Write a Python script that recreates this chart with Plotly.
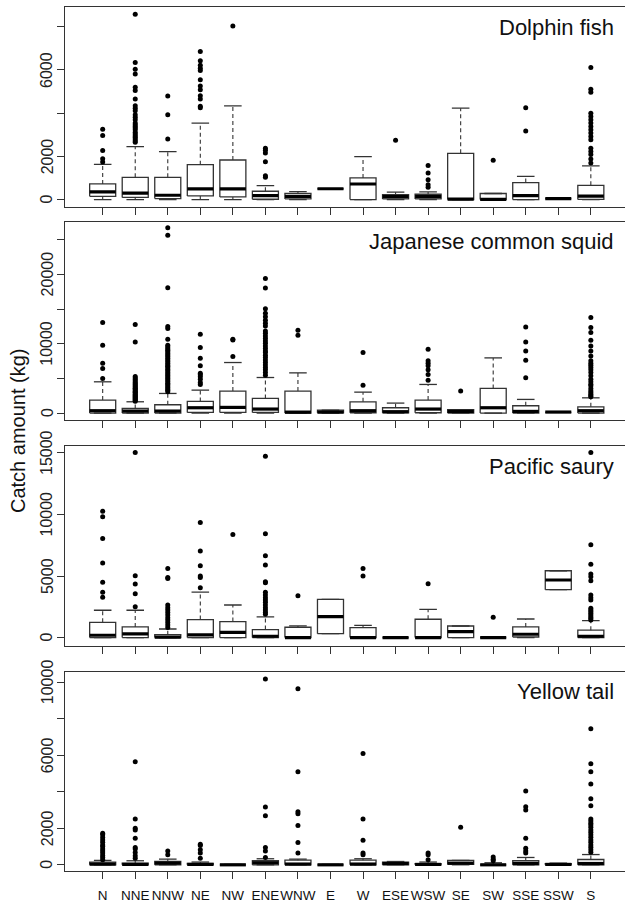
import plotly.graph_objects as go

# Wind-direction categories (x axis)
directions = ["N", "NNE", "NNW", "NE", "NW", "ENE", "WNW", "E", "W",
              "ESE", "WSW", "SE", "SW", "SSE", "SSW", "S"]

# ---- Dolphin fish: box statistics (kg) ----
dolphin_lo  = [0, 0, 0, 0, 0, 0, 0, 500, 0, 0, 0, 0, 0, 0, 40, 0]
dolphin_q1  = [150, 100, 45, 170, 120, 15, 30, 500, 0, 30, 30, 0, 0, 0, 40, 5]
dolphin_med = [355, 300, 200, 490, 490, 185, 150, 500, 720, 140, 140, 20, 10, 185, 40, 155]
dolphin_q3  = [725, 1030, 1030, 1615, 1830, 385, 290, 500, 1000, 230, 245, 2140, 280, 785, 40, 660]
dolphin_hi  = [1630, 2450, 2215, 3540, 4340, 645, 370, 500, 1985, 340, 355, 4230, 280, 1075, 40, 1555]
dolphin_out = [
    [1740, 1890, 2270, 2970, 3260],
    [2650, 2720, 2800, 2880, 2950, 3030, 3110, 3230, 3310, 3380, 3460, 3540, 3690,
     3810, 3920, 4110, 4230, 4340, 4650, 5050, 5200, 5810, 6030, 6340, 8580],
    [2800, 3920, 4790],
    [4250, 4320, 4660, 4800, 5080, 5260, 5540, 5970, 6080, 6220, 6430, 6850],
    [8030],
    [1030, 1100, 1750, 2150, 2280, 2380],
    [], [], [],
    [2750],
    [570, 690, 920, 1230, 1580],
    [],
    [1815],
    [3170, 4250],
    [],
    [1690, 1880, 2080, 2230, 2380, 2770, 2920, 3080, 3230, 3380, 3540, 3690, 3850,
     4000, 4970, 5110, 6110],
]

# ---- Japanese common squid ----
squid_lo  = [0, 0, 0, 0, 0, 0, 0, 0, 0, 0, 0, 0, 0, 0, 100, 0]
squid_q1  = [0, 0, 0, 100, 100, 100, 0, 40, 50, 50, 50, 0, 0, 0, 100, 0]
squid_med = [340, 290, 290, 770, 820, 580, 140, 150, 340, 200, 580, 240, 770, 240, 150, 340]
squid_q3  = [1870, 670, 1200, 1680, 3170, 2110, 3170, 420, 1630, 770, 1870, 480, 3550, 1060, 200, 910]
squid_hi  = [4510, 1630, 2830, 3310, 7290, 5130, 5800, 420, 3020, 1440, 4130, 480, 7960, 1970, 200, 2200]
squid_out = [
    [4990, 6430, 7190, 9780, 13050],
    [1720, 1860, 1990, 2130, 2300, 2420, 2590, 2710, 2880, 3010, 3150, 3320, 3470,
     3590, 3760, 3900, 4080, 4230, 4410, 4620, 4830, 5050, 5290, 10260, 12760],
    [3070, 3300, 3480, 3700, 3890, 4120, 4300, 4550, 4760, 4980, 5200, 5430, 5620,
     5870, 6090, 6300, 6540, 6760, 6950, 7200, 7440, 7660, 7900, 8150, 8370, 8600,
     8830, 9070, 9290, 9520, 9800, 10650, 12180, 12470, 18080, 25660, 26710],
    [4130, 4410, 4890, 5230, 5520, 5760, 6810, 7910, 9450, 11370],
    [8150, 10550, 10650],
    [5470, 5850, 6240, 6570, 6950, 7290, 7670, 8010, 8350, 8730, 8970, 9300, 9690,
     10070, 10410, 10740, 11130, 11510, 11850, 12570, 12950, 13380, 13910, 14390,
     15060, 18030, 19420],
    [11220, 11940],
    [],
    [4030, 8730],
    [],
    [4750, 5560, 6240, 6810, 7190, 7530, 9210],
    [3170],
    [],
    [5080, 7630, 8970, 10260, 12420],
    [],
    [2350, 2490, 2730, 2970, 3210, 3550, 3930, 4170, 4510, 4890, 5370, 5850, 6240,
     6570, 6910, 7190, 7530, 8250, 8970, 9690, 10500, 11610, 12330, 13770],
]

# ---- Pacific saury ----
saury_lo  = [0, 0, 0, 0, 0, 0, 0, 320, 0, 0, 0, 0, 0, 0, 3890, 0]
saury_q1  = [0, 0, 0, 0, 0, 0, 0, 320, 0, 0, 0, 0, 0, 50, 3890, 0]
saury_med = [190, 300, 30, 220, 430, 110, 0, 1700, 0, 0, 0, 480, 0, 270, 4680, 110]
saury_q3  = [1240, 870, 240, 1460, 1300, 650, 840, 3110, 810, 30, 1490, 940, 30, 870, 5430, 600]
saury_hi  = [2220, 2220, 700, 3700, 2650, 1680, 950, 3110, 1000, 30, 2300, 940, 30, 1510, 5430, 1380]
saury_out = [
    [3270, 3680, 4490, 6060, 8060, 9810, 10270],
    [2510, 3570, 4350, 5030, 15030],
    [810, 1030, 1220, 1430, 1620, 1840, 2030, 2240, 2430, 2650, 4810, 4890, 5620],
    [4050, 4890, 5000, 5840, 7030, 9350],
    [8380],
    [1890, 2050, 2240, 2430, 2650, 2870, 3050, 3240, 3460, 3680, 4460, 4540, 5890,
     6650, 8430, 14730],
    [3410],
    [],
    [5000, 5620],
    [],
    [4380],
    [],
    [1650],
    [],
    [],
    [1430, 1570, 1700, 1840, 1970, 2110, 2240, 2380, 3050, 3240, 3460, 4620, 4950,
     5160, 5950, 7540, 15030],
]

# ---- Yellow tail ----
yellow_lo  = [0] * 16
yellow_q1  = [0, 0, 0, 0, 0, 0, 0, 0, 0, 0, 0, 20, 0, 0, 0, 0]
yellow_med = [40, 20, 90, 20, 0, 110, 40, 0, 40, 70, 20, 90, 0, 70, 20, 70]
yellow_q3  = [150, 90, 180, 70, 20, 220, 250, 20, 250, 150, 60, 240, 40, 220, 60, 290]
yellow_hi  = [240, 220, 310, 150, 20, 330, 310, 20, 330, 180, 150, 240, 110, 400, 90, 560]
yellow_out = [
    [270, 400, 510, 640, 760, 870, 1000, 1090, 1240, 1360, 1490, 1640, 1730],
    [360, 490, 670, 870, 950, 1450, 1910, 2000, 2510, 5640],
    [545, 760],
    [360, 640, 820, 1050, 1130],
    [],
    [400, 760, 950, 2690, 3160, 10180],
    [640, 1220, 2150, 2800, 2910, 5090, 9640],
    [],
    [545, 650, 1350, 2510, 6090],
    [],
    [270, 550, 640],
    [2050],
    [220, 310, 420],
    [650, 760, 910, 1450, 3000, 3180, 4040],
    [],
    [690, 820, 960, 1090, 1240, 1360, 1510, 1640, 1780, 1910, 2050, 2180, 2270,
     2400, 2510, 3240, 3620, 4420, 5090, 5530, 7450],
]

species = ["Dolphin fish", "Japanese common squid", "Pacific saury", "Yellow tail"]
panel_stats = [
    (dolphin_lo, dolphin_q1, dolphin_med, dolphin_q3, dolphin_hi, dolphin_out),
    (squid_lo, squid_q1, squid_med, squid_q3, squid_hi, squid_out),
    (saury_lo, saury_q1, saury_med, saury_q3, saury_hi, saury_out),
    (yellow_lo, yellow_q1, yellow_med, yellow_q3, yellow_hi, yellow_out),
]
y_ranges = [[-323, 8914], [-1007, 27626], [-648, 15567], [-344, 10585]]
y_ticks = [[0, 2000, 4000, 6000, 8000],
           [0, 5000, 10000, 15000, 20000, 25000],
           [0, 5000, 10000, 15000],
           [0, 2000, 4000, 6000, 8000, 10000]]
# labelled ticks (the rest stay unlabelled)
y_labelled = [[0, 2000, 6000],
              [0, 10000, 20000],
              [0, 5000, 10000, 15000],
              [0, 2000, 6000, 10000]]

# Panel placement (paper fractions, figure is 625 x 903 px)
W, H = 625, 903
panel_px = [(7, 207), (222, 421), (447, 647), (673, 873)]
title_px = [28, 242, 468, 693]

BOX_HALF = 0.4
CAP_HALF = 0.27
LINE = "#333333"
FONT = "Liberation Sans, Arial"

fig = go.Figure()
layout_axes = {}

for p, (lo, q1, med, q3, hi, outs) in enumerate(panel_stats):
    ax = "" if p == 0 else str(p + 1)
    xref, yref = "x" + ax, "y" + ax

    bx, by, mx, my, wx, wy, cx, cy, ox, oy = [], [], [], [], [], [], [], [], [], []
    for i in range(len(directions)):
        x = i + 1
        # box outline
        bx += [x - BOX_HALF, x + BOX_HALF, x + BOX_HALF, x - BOX_HALF, x - BOX_HALF, None]
        by += [q1[i], q1[i], q3[i], q3[i], q1[i], None]
        # median bar
        mx += [x - BOX_HALF, x + BOX_HALF, None]
        my += [med[i], med[i], None]
        # dashed whiskers
        if hi[i] > q3[i]:
            wx += [x, x, None]
            wy += [q3[i], hi[i], None]
        if lo[i] < q1[i]:
            wx += [x, x, None]
            wy += [q1[i], lo[i], None]
        # staples
        cx += [x - CAP_HALF, x + CAP_HALF, None, x - CAP_HALF, x + CAP_HALF, None]
        cy += [hi[i], hi[i], None, lo[i], lo[i], None]
        # outliers
        ox += [x] * len(outs[i])
        oy += outs[i]

    common = dict(xaxis=xref, yaxis=yref, showlegend=False, hoverinfo="skip")
    fig.add_trace(go.Scatter(x=bx, y=by, mode="lines",
                             line=dict(color=LINE, width=1.3), **common))
    fig.add_trace(go.Scatter(x=wx, y=wy, mode="lines",
                             line=dict(color=LINE, width=1.1, dash="4px,3px"), **common))
    fig.add_trace(go.Scatter(x=cx, y=cy, mode="lines",
                             line=dict(color=LINE, width=1.3), **common))
    fig.add_trace(go.Scatter(x=mx, y=my, mode="lines",
                             line=dict(color="#000000", width=3.2), **common))
    fig.add_trace(go.Scatter(x=ox, y=oy, mode="markers",
                             marker=dict(color="#000000", size=5), **common))

    top, bot = panel_px[p]
    last = p == len(panel_stats) - 1
    layout_axes["xaxis" + ax] = dict(
        domain=[65 / W, 1.0], range=[-0.158, 17.05], anchor=yref,
        tickmode="array", tickvals=list(range(1, len(directions) + 1)),
        ticktext=directions, showticklabels=last, tickangle=0,
        ticks="outside", ticklen=7, tickwidth=1.2, tickcolor=LINE,
        showline=True, mirror=True, linecolor=LINE, linewidth=1.3,
        showgrid=False, zeroline=False,
        tickfont=dict(family=FONT, size=13.5, color="#111111"),
        ticklabelstandoff=5,
    )
    layout_axes["yaxis" + ax] = dict(
        domain=[1 - bot / H, 1 - top / H], range=y_ranges[p], anchor=xref,
        tickmode="array", tickvals=y_ticks[p], showticklabels=False,
        ticks="outside", ticklen=7, tickwidth=1.2, tickcolor=LINE,
        showline=True, mirror=False, linecolor=LINE, linewidth=1.3,
        showgrid=False, zeroline=False,
    )
    # y tick labels written parallel to the axis
    for v in y_labelled[p]:
        fig.add_annotation(text=str(v), xref="paper", yref=yref,
                           x=47 / W, y=v, xanchor="center", yanchor="middle",
                           textangle=-90, showarrow=False,
                           font=dict(family=FONT, size=16, color="#222222"))
    fig.add_annotation(text=species[p], xref="paper", yref="paper",
                       x=616 / W, y=1 - title_px[p] / H,
                       xanchor="right", yanchor="middle", showarrow=False,
                       font=dict(family=FONT, size=22, color="#111111"))

fig.add_annotation(text="Catch amount (kg)", xref="paper", yref="paper",
                   x=18 / W, y=1 - 432 / H, xanchor="center", yanchor="middle",
                   textangle=-90, showarrow=False,
                   font=dict(family=FONT, size=20, color="#111111"))

fig.update_layout(
    width=W, height=H,
    margin=dict(l=0, r=0, t=0, b=0),
    paper_bgcolor="white", plot_bgcolor="white",
    **layout_axes,
)

fig.write_html("out.html", config={"displayModeBar": False})
